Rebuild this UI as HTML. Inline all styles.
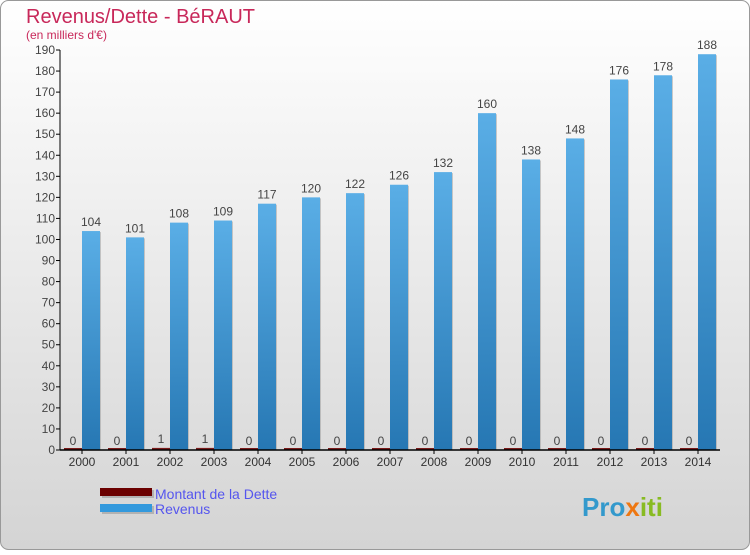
<!DOCTYPE html>
<html><head><meta charset="utf-8"><style>
body{margin:0;width:750px;height:550px;overflow:hidden;font-family:"Liberation Sans",sans-serif}
</style></head><body>
<svg width="750" height="550" xmlns="http://www.w3.org/2000/svg">
<defs>
<linearGradient id="bg" x1="0" y1="0" x2="0" y2="1"><stop offset="0" stop-color="#ffffff"/><stop offset="1" stop-color="#d4d4d4"/></linearGradient>
<linearGradient id="rev" x1="0" y1="0" x2="0" y2="1"><stop offset="0" stop-color="#5aaee6"/><stop offset="1" stop-color="#2677b3"/></linearGradient>
</defs>
<rect x="0.5" y="0.5" width="749" height="549" rx="8" fill="url(#bg)" stroke="#999"/>
<text x="26" y="23" font-size="20" fill="#c8285a">Revenus/Dette - BéRAUT</text>
<text x="26" y="39" font-size="12" fill="#c8285a">(en milliers d'€)</text>
<g id="plot"></g>
<g>
<rect x="102" y="490" width="52" height="8" fill="#999" opacity="0.6"/>
<rect x="100" y="488" width="52" height="8" fill="#6b0000"/>
<rect x="102" y="506" width="52" height="8" fill="#999" opacity="0.6"/>
<rect x="100" y="504" width="52" height="8" fill="#3399dd"/>
<text x="155" y="499" font-size="14" fill="#5555ee">Montant de la Dette</text>
<text x="155" y="514" font-size="14" fill="#5555ee">Revenus</text>
</g>
<text x="582" y="516" font-size="26" font-weight="bold" fill="#3399cc">Pro<tspan fill="#ee7711">x</tspan><tspan fill="#88bb22">iti</tspan></text>
</svg>
<script>
const years=["2000","2001","2002","2003","2004","2005","2006","2007","2008","2009","2010","2011","2012","2013","2014"];
const dette=[0,0,1,1,0,0,0,0,0,0,0,0,0,0,0];
const revenus=[104,101,108,109,117,120,122,126,132,160,138,148,176,178,188];
const yTicks=[0,10,20,30,40,50,60,70,80,90,100,110,120,130,140,150,160,170,180,190];
const ns="http://www.w3.org/2000/svg";
const g=document.getElementById('plot');
const X0=60,BAND=44,Y0=450,YMAX=190,H=400;
const y=v=>Y0-v/YMAX*H;
const xc=i=>X0+BAND*(i+0.5);
function mk(t,a){const e=document.createElementNS(ns,t);for(const k in a)e.setAttribute(k,a[k]);g.appendChild(e);return e;}
yTicks.forEach(v=>{
 const l=mk('line',{x1:X0-4,x2:X0,y1:y(v),y2:y(v),stroke:'#000'});
 
 
 const t=mk('text',{x:X0-5,y:y(v)+4,'font-size':12,'text-anchor':'end',fill:'#444'});
 t.textContent=v;
 
 
});
years.forEach((yr,i)=>{
 const c=xc(i);
 const dh=Math.max(2,Y0-y(dette[i]));
 const d=mk('rect',{x:c-18,y:Y0-dh,width:18,height:dh,fill:'#7a1a1a'});
 
 
 const s=mk('rect',{x:c+1,y:y(revenus[i])+1,width:18,height:Y0-y(revenus[i])-1,fill:'#999',opacity:0.5});
 
 
 const r=mk('rect',{x:c,y:y(revenus[i]),width:18,height:Y0-y(revenus[i]),fill:'url(#rev)'});
 
 
 const dl=mk('text',{x:c-9,y:y(dette[i])-5,'font-size':12,'text-anchor':'middle',fill:'#444'});
 dl.textContent=dette[i];
 
 
 const rl=mk('text',{x:c+9,y:y(revenus[i])-5,'font-size':12,'text-anchor':'middle',fill:'#444'});
 rl.textContent=revenus[i];
 
 
 const tk=mk('line',{x1:c,x2:c,y1:Y0,y2:Y0+4,stroke:'#000'});
 
 
 const xl=mk('text',{x:c,y:Y0+16,'font-size':12,'text-anchor':'middle',fill:'#333'});
 xl.textContent=yr;
 
 
});
const ya=mk('line',{x1:X0,x2:X0,y1:y(YMAX),y2:Y0,stroke:'#000'});


const xa=mk('line',{x1:X0,x2:X0+BAND*years.length,y1:Y0,y2:Y0,stroke:'#000','stroke-width':1.5});


</script>
</body></html>
